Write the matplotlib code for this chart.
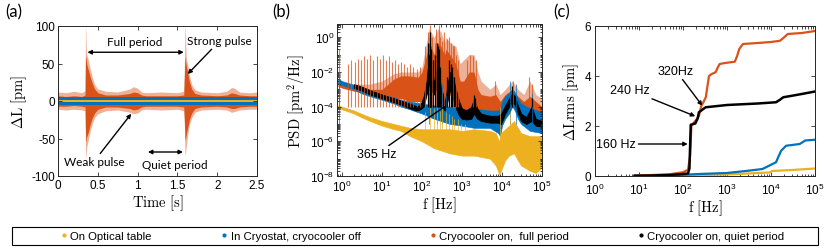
import numpy as np
import matplotlib
matplotlib.use('Agg')
import matplotlib.pyplot as plt
from matplotlib.lines import Line2D
from matplotlib.patches import Rectangle
from matplotlib.ticker import LogLocator, NullFormatter

plt.rcParams['font.family'] = ['Liberation Sans', 'DejaVu Sans']
plt.rcParams['axes.unicode_minus'] = False

c_yel = '#EDB120'
c_blu = '#0072BD'
c_org = '#D95319'
c_blk = 'black'

# ---------------- (a) time trace envelopes ----------------
t_a = [0.00, 0.10, 0.20, 0.30, 0.34, 0.345, 0.35, 0.355, 0.36, 0.38, 0.40, 0.43, 0.46, 0.50,
       0.60, 0.75, 0.90, 0.95, 1.00, 1.05, 1.10, 1.30, 1.50, 1.58, 1.59, 1.595, 1.60, 1.61,
       1.63, 1.65, 1.68, 1.72, 1.80, 2.00, 2.12, 2.18, 2.22, 2.28, 2.40, 2.50]
org_light_top = [12, 11, 13, 11, 14, 100, 90, 70, 62, 55, 45, 32, 22, 16, 13, 12, 16, 19, 17, 12,
                 11, 12, 11, 13, 60, 100, 95, 58, 48, 34, 22, 15, 12, 11, 13, 18, 17, 12, 11, 12]
org_light_bot = [-11, -12, -11, -12, -13, -60, -78, -72, -62, -52, -42, -30, -22, -17, -13, -12,
                 -15, -17, -16, -12, -11, -12, -11, -13, -40, -70, -72, -62, -45, -32, -22, -15,
                 -12, -11, -12, -15, -14, -12, -11, -11]
org_dark_top = [7, 6, 7, 6, 8, 55, 60, 55, 50, 42, 34, 24, 16, 11, 8, 8, 10, 12, 11, 8,
                7, 7, 7, 8, 40, 60, 55, 48, 38, 26, 16, 10, 8, 7, 8, 11, 10, 8, 7, 7]
org_dark_bot = [-7, -7, -6, -7, -8, -40, -55, -52, -48, -42, -33, -23, -16, -11, -8, -8, -10,
                -12, -11, -8, -7, -7, -7, -8, -30, -50, -52, -45, -35, -25, -16, -10, -8, -7,
                -8, -10, -10, -8, -7, -7]
t_flat = [0.0, 2.5]
blu_a_top = [5, 5]
blu_a_bot = [-5, -5]
yel_a_top = [1.2, 1.2]
yel_a_bot = [-1.2, -1.2]

# ---------------- (b) PSD envelopes ----------------
f_yel = [0.8, 1, 2, 3, 5, 10, 20, 30, 50, 100, 200, 500, 1000, 2000, 5000, 7000, 8500, 9500,
         12000, 15000, 20000, 25000, 30000, 50000, 70000, 100000]
yel_top = [1.2e-4, 1e-4, 6e-5, 4e-5, 2.5e-5, 1.5e-5, 1e-5, 8e-6, 6e-6, 5e-6, 5e-6, 5e-6, 4e-6,
           5e-6, 4e-6, 3e-6, 1e-6, 3e-6, 5e-6, 8e-6, 1.5e-5, 6e-6, 3e-6, 2e-6, 2e-6, 2e-6]
yel_bot = [8e-5, 7e-5, 4e-5, 2.5e-5, 1.5e-5, 8e-6, 5e-6, 4e-6, 2e-6, 1e-6, 4e-7, 2e-7, 1.5e-7,
           1.5e-7, 1e-7, 4e-8, 1.2e-8, 2e-8, 8e-8, 1.5e-7, 2e-7, 8e-8, 4e-8, 2e-8, 1.5e-8, 3e-8]
yel_spk_f = [120, 160, 200, 240, 280, 320, 400, 480, 560, 640, 800, 960, 1200, 9000, 16000]
yel_spk_h = [5e-5, 1e-4, 8e-5, 1e-4, 6e-5, 1e-4, 5e-5, 4e-5, 3e-5, 2e-5, 2e-5, 1e-5, 1e-5, 1e-4, 5e-5]

f_blu = [0.8, 1, 2, 3, 5, 10, 20, 30, 50, 100, 200, 500, 1000, 2000, 5000, 8000, 9000, 10000,
         12000, 15000, 18000, 20000, 25000, 30000, 50000, 100000]
blu_top = [4e-3, 3e-3, 1.8e-3, 1.2e-3, 8e-4, 5e-4, 3.5e-4, 2.5e-4, 2e-4, 1.5e-4, 1.2e-4, 1e-4,
           7e-5, 8e-5, 6e-5, 6e-5, 8e-5, 2e-4, 4e-4, 6e-4, 1e-3, 8e-4, 3e-4, 1.5e-4, 8e-5, 5e-5]
blu_bot = [2e-3, 1.8e-3, 1e-3, 6e-4, 4e-4, 2.5e-4, 1.5e-4, 1e-4, 7e-5, 4e-5, 2e-5, 1e-5, 8e-6,
           6e-6, 6e-6, 3e-6, 2e-6, 8e-6, 2e-5, 4e-5, 1e-4, 8e-5, 2e-5, 1e-5, 4e-6, 3e-6]
blu_spk_f = [0.85, 150, 240, 320, 400, 480, 16000, 22000, 55000]
blu_spk_h = [6e-3, 1e-3, 1.5e-3, 2e-3, 5e-4, 3e-4, 3e-3, 2e-3, 6e-4]

f_org = [0.8, 1, 2, 5, 10, 20, 30, 50, 80, 100, 130, 150, 170, 200, 250, 300, 365, 400, 500,
         700, 900, 1100, 1500, 2000, 2500, 3000, 5000, 7000, 9000, 12000, 18000, 25000, 35000,
         50000, 70000, 100000]
org_top_light = [5e-3, 3e-3, 2e-3, 2e-3, 3e-3, 8e-3, 1e-2, 1e-2, 1e-2, 2e-2, 5e-1, 3, 2, 1, 3, 2,
                 5e-1, 1, 5e-1, 3e-1, 3e-2, 5e-2, 1e-1, 1e-1, 1e-2, 3e-3, 1e-3, 2e-3, 5e-4, 1e-3,
                 3e-3, 1e-3, 5e-4, 3e-3, 5e-4, 3e-4]
org_top_dark = [3e-3, 2e-3, 1.5e-3, 1e-3, 1e-3, 4e-3, 6e-3, 6e-3, 5e-3, 1e-2, 1e-1, 5e-1, 3e-1,
                1e-1, 5e-1, 3e-1, 1e-1, 2e-1, 1e-1, 3e-2, 3e-3, 3e-3, 1e-2, 1e-2, 1e-3, 5e-4,
                4e-4, 5e-4, 2e-4, 5e-4, 1e-3, 4e-4, 2e-4, 4e-4, 2e-4, 1e-4]
org_bot = [1.5e-3, 1.2e-3, 8e-4, 5e-4, 4e-4, 3e-4, 3e-4, 2e-4, 2e-4, 2e-4, 5e-4, 1e-3, 1e-3, 1e-3,
           1e-3, 5e-4, 1e-4, 3e-4, 5e-4, 1e-4, 3e-5, 3e-5, 3e-5, 5e-5, 3e-5, 2e-5, 2e-5, 2e-5,
           1e-5, 3e-5, 1e-4, 3e-5, 2e-5, 2e-5, 1.5e-5, 1e-5]
org_spk_f = [0.85, 1.4, 1.7, 2.1, 2.5, 3.0, 3.6, 4.3, 5.1, 6.1, 7.3, 8.7, 10.4, 12.4, 14.8, 17.7,
             21, 25, 30, 36, 43, 51, 61, 73, 87,
             120, 140, 160, 180, 210, 230, 260, 280, 320, 350, 420, 460, 520, 580, 640, 700, 780,
             1300, 1600, 1900, 2200, 6500, 19000, 47000, 56000]
org_spk_h = [2e-1, 3e-2, 5e-2, 4e-2, 6e-2, 5e-2, 8e-2, 6e-2, 1e-1, 5e-2, 8e-2, 6e-2, 1e-1, 5e-2,
             8e-2, 4e-2, 5e-2, 3e-2, 4e-2, 3e-2, 2e-2, 3e-2, 2e-2, 1.5e-2, 2e-2,
             0.3, 2, 5, 1, 0.5, 3, 5, 1, 0.6, 2, 0.8, 1, 0.5, 0.3, 0.3, 0.1, 0.05,
             0.05, 0.1, 0.08, 0.05, 3e-3, 3e-3, 5e-3, 2e-3]

f_blk = [2, 3, 5, 10, 20, 30, 50, 70, 90, 110, 130, 150, 160, 175, 200, 225, 250, 275, 300, 340,
         365, 400, 450, 500, 600, 700, 850, 1000, 1300, 1700, 2000, 2400, 3000, 5000, 8000, 9500,
         12000, 15000, 18000, 21000, 25000, 30000, 40000, 55000, 70000, 100000]
blk_top = [2e-3, 1.5e-3, 9e-4, 5e-4, 3e-4, 2.2e-4, 1.5e-4, 1.1e-4, 1.2e-4, 4e-4, 3e-3, 1e-1, 1e-2,
           3e-3, 3e-3, 1e-2, 3e-2, 5e-3, 1e-3, 5e-4, 1.5e-4, 5e-4, 3e-3, 1e-2, 5e-3, 1e-3, 2e-4,
           8e-5, 6e-5, 1e-4, 3e-4, 8e-5, 4e-5, 3e-5, 3e-5, 4e-5, 1.2e-4, 3e-4, 6e-4, 4e-4,
           1.2e-4, 4e-5, 2.5e-5, 1e-4, 2e-5, 1.5e-5]
blk_bot = [1.2e-3, 9e-4, 5e-4, 3e-4, 1.8e-4, 1.3e-4, 8e-5, 6e-5, 7e-5, 1e-4, 5e-4, 2e-3, 2e-3,
           8e-4, 5e-4, 1e-3, 2e-3, 5e-4, 1e-4, 8e-5, 6e-5, 1e-4, 3e-4, 1e-3, 3e-4, 8e-5, 3e-5,
           2e-5, 1.8e-5, 2e-5, 4e-5, 2e-5, 1.5e-5, 1.2e-5, 1.2e-5, 1e-5, 4e-5, 1e-4, 2e-4,
           1.2e-4, 4e-5, 1.5e-5, 1e-5, 1.5e-5, 8e-6, 7e-6]
blk_spk_f = [145, 155, 160, 170, 185, 210, 240, 255, 265, 290, 430, 480, 520, 560, 640,
             2000, 2100, 18000, 56000]
blk_spk_h = [0.5, 2, 1, 0.2, 0.05, 0.1, 0.5, 0.3, 0.2, 0.02, 5e-3, 5e-2, 3e-2, 2e-2, 5e-3,
             5e-4, 3e-4, 1.5e-3, 3e-4]

# ---------------- (c) cumulative rms ----------------
fc_org = [8, 20, 50, 100, 130, 145, 155, 170, 200, 230, 260, 290, 330, 360, 390, 450, 550, 620,
          680, 900, 1500, 1700, 1900, 2300, 5000, 10000, 16000, 20000, 24000, 50000, 100000]
rms_org = [0.02, 0.04, 0.07, 0.15, 0.25, 0.8, 2.0, 2.1, 2.25, 2.4, 2.8, 2.95, 3.15, 3.6, 4.0,
           4.08, 4.15, 4.35, 4.48, 4.52, 4.57, 4.8, 5.08, 5.28, 5.32, 5.36, 5.41, 5.55, 5.68,
           5.72, 5.8]
fc_blk = [8, 20, 50, 100, 130, 140, 150, 190, 215, 230, 300, 330, 1000, 5000, 13000, 16000,
          19000, 30000, 50000, 100000]
rms_blk = [0.01, 0.02, 0.04, 0.08, 0.1, 0.3, 2.05, 2.1, 2.3, 2.55, 2.7, 2.75, 2.84, 2.9, 2.95,
           3.05, 3.15, 3.21, 3.28, 3.38]
fc_blu = [8, 100, 230, 1000, 3000, 6400, 9000, 13000, 15000, 17000, 22000, 45000, 60000, 100000]
rms_blu = [0.0, 0.05, 0.08, 0.12, 0.21, 0.28, 0.41, 0.55, 0.8, 1.01, 1.21, 1.28, 1.42, 1.45]
fc_yel = [8, 100, 1000, 5000, 9500, 10500, 30000, 100000]
rms_yel = [0.0, 0.02, 0.06, 0.12, 0.14, 0.2, 0.24, 0.3]

legend_labels = ['On Optical table', 'In Cryostat, cryocooler off',
                 'Cryocooler on,  full period', 'Cryocooler on, quiet period']


def matlab_style(ax):
    ax.tick_params(which='both', direction='in', top=True, right=True, labelsize=8.5,
                   color='#262626', width=0.6, pad=2)
    ax.tick_params(which='major', length=3)
    ax.tick_params(which='minor', length=1.8)
    for s in ax.spines.values():
        s.set_color('#262626')
        s.set_linewidth(0.7)


W, H = 830, 253
fig = plt.figure(figsize=(W / 100, H / 100), dpi=100)

arr2 = dict(arrowstyle='<|-|>', color='black', lw=1, mutation_scale=6, shrinkA=0, shrinkB=0)
arr1 = dict(arrowstyle='-|>', color='black', lw=1, mutation_scale=6, shrinkA=0, shrinkB=0)
note_font = dict(family='Lato', fontsize=8.5)

# (a)
ax1 = fig.add_axes([58 / W, 1 - 177 / H, 199 / W, 150 / H])
ax1.fill_between(t_a, org_light_bot, org_light_top, color=c_org, alpha=0.45, lw=0)
ax1.fill_between(t_a, org_dark_bot, org_dark_top, color=c_org, lw=0)
ax1.fill_between(t_flat, blu_a_bot, blu_a_top, color=c_blu, lw=0)
ax1.fill_between(t_flat, yel_a_bot, yel_a_top, color=c_yel, lw=0)
ax1.set_xlim(0, 2.5)
ax1.set_ylim(-100, 100)
ax1.set_xticks([0, 0.5, 1, 1.5, 2, 2.5])
ax1.set_xticklabels(['0', '0.5', '1', '1.5', '2', '2.5'])
ax1.set_yticks([-100, -50, 0, 50, 100])
matlab_style(ax1)
ax1.set_xlabel(r'$\mathrm{Time\ [s]}$', math_fontfamily='cm', fontsize=10.5, labelpad=1)
ax1.set_ylabel(r'$\Delta\mathrm{L\ [pm]}$', math_fontfamily='cm', fontsize=10.5, labelpad=2)
ax1.annotate('', xy=(1.58, 65), xytext=(0.37, 65), arrowprops=arr2)
ax1.text(0.96, 79, 'Full period', ha='center', va='center', **note_font)
ax1.annotate('Strong pulse', xy=(1.63, 36), xytext=(2.03, 80), ha='center', va='center',
             arrowprops=arr1, **note_font)
ax1.annotate('Weak pulse', xy=(0.92, -17), xytext=(0.45, -81), ha='center', va='center',
             arrowprops=arr1, **note_font)
ax1.annotate('', xy=(1.57, -68), xytext=(1.13, -68), arrowprops=arr2)
ax1.text(1.47, -85, 'Quiet period', ha='center', va='center', **note_font)

# (b)
ax2 = fig.add_axes([337 / W, 1 - 177 / H, 205 / W, 152 / H])
ax2.set_xscale('log')
ax2.set_yscale('log')
ax2.vlines(org_spk_f, 1e-4, org_spk_h, color=c_org, lw=0.8, alpha=0.75)
ax2.fill_between(f_org, org_bot, org_top_light, color=c_org, alpha=0.45, lw=0)
ax2.fill_between(f_org, org_bot, org_top_dark, color=c_org, lw=0)
ax2.fill_between(f_blu, blu_bot, blu_top, color=c_blu, lw=0.4, edgecolor=c_blu)
ax2.vlines(blu_spk_f, 1e-5, blu_spk_h, color=c_blu, lw=0.7, alpha=0.7)
ax2.fill_between(f_yel, yel_bot, yel_top, color=c_yel, lw=0.4, edgecolor=c_yel)
ax2.vlines(yel_spk_f, 1e-6, yel_spk_h, color=c_yel, lw=0.7, alpha=0.7)
ax2.fill_between(f_blk, blk_bot, blk_top, color=c_blk, lw=0.6, edgecolor=c_blk)
ax2.vlines(blk_spk_f, 1e-4, blk_spk_h, color=c_blk, lw=0.9)
ax2.set_xlim(0.75, 1e5)
ax2.set_ylim(1e-8, 5.9)
ax2.set_xticks([1e0, 1e1, 1e2, 1e3, 1e4, 1e5])
ax2.set_yticks([1e-8, 1e-6, 1e-4, 1e-2, 1e0])
ax2.xaxis.set_minor_locator(LogLocator(base=10, subs=np.arange(2, 10), numticks=20))
ax2.yaxis.set_minor_locator(LogLocator(base=10, subs=np.arange(1, 10), numticks=40))
ax2.xaxis.set_minor_formatter(NullFormatter())
ax2.yaxis.set_minor_formatter(NullFormatter())
matlab_style(ax2)
ax2.set_xlabel(r'$\mathrm{f\ [Hz]}$', math_fontfamily='cm', fontsize=10.5, labelpad=0)
ax2.set_ylabel(r'$\mathrm{PSD\ [pm^2/Hz]}$', math_fontfamily='cm', fontsize=10.5, labelpad=1)
ax2.annotate('365 Hz', xy=(365, 1e-4), xytext=(7.2, 1.8e-7), ha='center', va='center',
             arrowprops=dict(arrowstyle='-', color='black', lw=1, shrinkA=0, shrinkB=0),
             fontsize=9)

# (c)
ax3 = fig.add_axes([595 / W, 1 - 177 / H, 220 / W, 150 / H])
ax3.set_xscale('log')
ax3.plot(fc_yel, rms_yel, color=c_yel, lw=1.6)
ax3.plot(fc_blu, rms_blu, color=c_blu, lw=1.6)
ax3.plot(fc_org, rms_org, color=c_org, lw=1.6)
ax3.plot(fc_blk, rms_blk, color=c_blk, lw=1.8)
ax3.set_xlim(1, 1e5)
ax3.set_ylim(0, 6)
ax3.set_xticks([1e0, 1e1, 1e2, 1e3, 1e4, 1e5])
ax3.set_yticks([0, 2, 4, 6])
ax3.xaxis.set_minor_locator(LogLocator(base=10, subs=np.arange(2, 10), numticks=20))
ax3.xaxis.set_minor_formatter(NullFormatter())
matlab_style(ax3)
ax3.tick_params(axis='x', pad=4.5)
ax3.tick_params(axis='y', pad=3)
ax3.set_xlabel(r'$\mathrm{f\ [Hz]}$', math_fontfamily='cm', fontsize=10.5, labelpad=0)
ax3.set_ylabel(r'$\Delta\mathrm{Lrms\ [pm]}$', math_fontfamily='cm', fontsize=10.5, labelpad=2)
ax3.annotate('160 Hz', xy=(128, 1.28), xytext=(1.05, 1.28), ha='left', va='center',
             arrowprops=arr1, fontsize=9)
ax3.annotate('240 Hz', xy=(190, 2.39), xytext=(6.3, 3.44), ha='center', va='center',
             arrowprops=arr1, fontsize=9)
ax3.annotate('320Hz', xy=(275, 2.81), xytext=(69, 4.21), ha='center', va='center',
             arrowprops=arr1, fontsize=9)

# panel letters
for x, lab in [(5, '(a)'), (272, '(b)'), (553, '(c)')]:
    fig.text(x / W, 1 - 12 / H, lab, family='Lato', fontsize=12, va='center')

# legend with full-width frame
fig.patches.append(Rectangle((12 / W, 1 - 246 / H), 806 / W, 18 / H, transform=fig.transFigure,
                             facecolor='white', edgecolor='black', lw=0.8))
handles = [Line2D([], [], marker='.', ls='none', color=c, markersize=4)
           for c in [c_yel, c_blu, c_org, c_blk]]
fig.legend(handles, legend_labels, loc='center', bbox_to_anchor=(423 / W, 1 - 237 / H), ncol=4,
           frameon=False, handlelength=0.5, handletextpad=0.3, columnspacing=6.1,
           prop={'family': ['Liberation Sans'], 'size': 8.2})

fig.savefig('out.png', dpi=100)
